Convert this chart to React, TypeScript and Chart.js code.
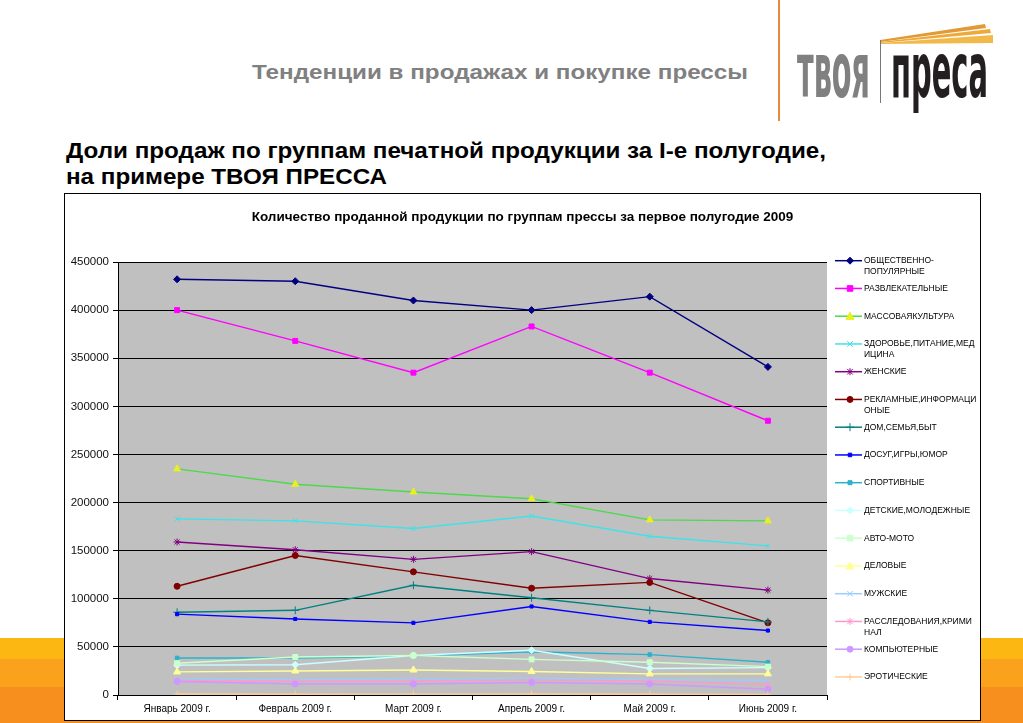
import React, { useEffect, useRef } from 'react';
import { Chart, registerables } from 'chart.js';

Chart.register(...registerables);

// ---------- DATA ----------
const months = ['Январь 2009 г.', 'Февраль 2009 г.', 'Март 2009 г.', 'Апрель 2009 г.', 'Май 2009 г.', 'Июнь 2009 г.'];

const seriesNames = [
  'ОБЩЕСТВЕННО-ПОПУЛЯРНЫЕ',
  'РАЗВЛЕКАТЕЛЬНЫЕ',
  'МАССОВАЯКУЛЬТУРА',
  'ЗДОРОВЬЕ,ПИТАНИЕ,МЕДИЦИНА',
  'ЖЕНСКИЕ',
  'РЕКЛАМНЫЕ,ИНФОРМАЦИОНЫЕ',
  'ДОМ,СЕМЬЯ,БЫТ',
  'ДОСУГ,ИГРЫ,ЮМОР',
  'СПОРТИВНЫЕ',
  'ДЕТСКИЕ,МОЛОДЕЖНЫЕ',
  'АВТО-МОТО',
  'ДЕЛОВЫЕ',
  'МУЖСКИЕ',
  'РАССЛЕДОВАНИЯ,КРИМИНАЛ',
  'КОМПЬЮТЕРНЫЕ',
  'ЭРОТИЧЕСКИЕ',
];

// legend text as it wraps in the reference
const legendLines = [
  ['ОБЩЕСТВЕННО-', 'ПОПУЛЯРНЫЕ'],
  ['РАЗВЛЕКАТЕЛЬНЫЕ'],
  ['МАССОВАЯКУЛЬТУРА'],
  ['ЗДОРОВЬЕ,ПИТАНИЕ,МЕД', 'ИЦИНА'],
  ['ЖЕНСКИЕ'],
  ['РЕКЛАМНЫЕ,ИНФОРМАЦИ', 'ОНЫЕ'],
  ['ДОМ,СЕМЬЯ,БЫТ'],
  ['ДОСУГ,ИГРЫ,ЮМОР'],
  ['СПОРТИВНЫЕ'],
  ['ДЕТСКИЕ,МОЛОДЕЖНЫЕ'],
  ['АВТО-МОТО'],
  ['ДЕЛОВЫЕ'],
  ['МУЖСКИЕ'],
  ['РАССЛЕДОВАНИЯ,КРИМИ', 'НАЛ'],
  ['КОМПЬЮТЕРНЫЕ'],
  ['ЭРОТИЧЕСКИЕ'],
];

const obshchestvennye = [432000, 430000, 410000, 400000, 414000, 341000];
const razvlekatelnye = [400000, 368000, 335000, 383000, 335000, 285000];
const massovayaKultura = [235000, 219000, 211000, 204000, 182000, 181000];
const zdorovie = [183000, 181000, 173000, 186000, 165000, 155000];
const zhenskie = [159000, 151000, 141000, 149000, 121000, 109000];
const reklamnye = [113000, 145000, 128000, 111000, 117000, 75000];
const domSemya = [86000, 88000, 114000, 101000, 88000, 76000];
const dosug = [84000, 79000, 75000, 92000, 76000, 67000];
const sportivnye = [38500, 38500, 40500, 45000, 42000, 34000];
const detskie = [31000, 31500, 41000, 46500, 27500, 28500];
const avtoMoto = [33000, 39500, 41000, 37000, 34000, 29500];
const delovye = [24000, 25000, 26000, 24500, 22000, 22000];
const muzhskie = [17000, 16000, 16500, 17500, 16000, 15000];
const rassledovaniya = [15000, 14000, 14500, 15500, 14500, 11000];
const kompyuternye = [14000, 11500, 11500, 13000, 11500, 6000];
const eroticheskie = [1000, 800, 900, 1000, 800, 700];

const seriesValues = [
  obshchestvennye, razvlekatelnye, massovayaKultura, zdorovie, zhenskie, reklamnye, domSemya, dosug,
  sportivnye, detskie, avtoMoto, delovye, muzhskie, rassledovaniya, kompyuternye, eroticheskie,
];

const yTicks = [0, 50000, 100000, 150000, 200000, 250000, 300000, 350000, 400000, 450000];

const chartTitle = 'Количество проданной продукции по группам прессы за первое полугодие 2009';

// ---------- STYLES ----------
const lineColors = [
  '#000080', '#FF00FF', '#4CD94C', '#3FE2E8', '#800080', '#800000', '#008080', '#0000FF',
  '#2AB2C9', '#CCFFFF', '#CCFFCC', '#FFFF99', '#99CCFF', '#FF99CC', '#CC99FF', '#FFCC99',
];
const markerColors = [
  '#000080', '#FF00FF', '#E8F020', '#3FE2E8', '#800080', '#800000', '#008080', '#0000FF',
  '#2AB2C9', '#CCFFFF', '#CCFFCC', '#FFFF99', '#99CCFF', '#FF99CC', '#CC99FF', '#FFCC99',
];
const markerStyles = [
  'rectRot', 'rect', 'triangle', 'crossRot', 'star', 'circle', 'cross', 'rect',
  'rect', 'rectRot', 'rect', 'triangle', 'crossRot', 'star', 'circle', 'cross',
];
const markerSizes = [3.5, 3.5, 4, 3.5, 3.5, 3, 4, 2.2, 2.5, 3.5, 3.5, 4, 3.5, 3.5, 3, 3.5];

const FONT = '"Liberation Sans", Arial, sans-serif';

function drawMarker(ctx: CanvasRenderingContext2D, style: string, x: number, y: number, r: number, color: string) {
  ctx.save();
  ctx.fillStyle = color;
  ctx.strokeStyle = color;
  ctx.lineWidth = 1;
  ctx.beginPath();
  switch (style) {
    case 'rectRot':
      ctx.moveTo(x, y - r); ctx.lineTo(x + r, y); ctx.lineTo(x, y + r); ctx.lineTo(x - r, y); ctx.closePath();
      ctx.fill(); ctx.stroke(); break;
    case 'rect':
      ctx.rect(x - r * 0.8, y - r * 0.8, r * 1.6, r * 1.6); ctx.fill(); ctx.stroke(); break;
    case 'triangle':
      ctx.moveTo(x, y - r); ctx.lineTo(x + r, y + r * 0.8); ctx.lineTo(x - r, y + r * 0.8); ctx.closePath();
      ctx.fill(); ctx.stroke(); break;
    case 'circle':
      ctx.arc(x, y, r, 0, Math.PI * 2); ctx.fill(); ctx.stroke(); break;
    case 'crossRot':
      ctx.moveTo(x - r * 0.8, y - r * 0.8); ctx.lineTo(x + r * 0.8, y + r * 0.8);
      ctx.moveTo(x + r * 0.8, y - r * 0.8); ctx.lineTo(x - r * 0.8, y + r * 0.8); ctx.stroke(); break;
    case 'star':
      ctx.moveTo(x - r * 0.8, y - r * 0.8); ctx.lineTo(x + r * 0.8, y + r * 0.8);
      ctx.moveTo(x + r * 0.8, y - r * 0.8); ctx.lineTo(x - r * 0.8, y + r * 0.8);
      ctx.moveTo(x, y - r); ctx.lineTo(x, y + r); ctx.stroke(); break;
    case 'cross':
      ctx.moveTo(x - r, y); ctx.lineTo(x + r, y); ctx.moveTo(x, y - r); ctx.lineTo(x, y + r); ctx.stroke(); break;
    default:
      ctx.moveTo(x - r, y); ctx.lineTo(x + r, y); ctx.stroke();
  }
  ctx.restore();
}

const plotBgPlugin = {
  id: 'plotBg',
  beforeDraw(chart: any) {
    const { ctx, chartArea } = chart;
    ctx.save();
    ctx.fillStyle = '#C0C0C0';
    ctx.fillRect(chartArea.left, chartArea.top, chartArea.right - chartArea.left, chartArea.bottom - chartArea.top);
    ctx.restore();
  },
};

const titleAndLegendPlugin = {
  id: 'titleLegend',
  afterDraw(chart: any) {
    const ctx: CanvasRenderingContext2D = chart.ctx;
    ctx.save();
    // title
    ctx.fillStyle = '#000';
    ctx.font = `bold 13.5px ${FONT}`;
    ctx.textAlign = 'center';
    ctx.textBaseline = 'middle';
    ctx.fillText(chartTitle, 457.5, 23);
    // legend
    ctx.font = `8.5px ${FONT}`;
    ctx.textAlign = 'left';
    for (let i = 0; i < legendLines.length; i++) {
      const y = 260.7 + i * 27.75 - 194;
      ctx.strokeStyle = lineColors[i];
      ctx.lineWidth = 1.5;
      ctx.beginPath();
      ctx.moveTo(770, y);
      ctx.lineTo(797, y);
      ctx.stroke();
      drawMarker(ctx, markerStyles[i], 785, y, markerSizes[i], markerColors[i]);
      ctx.fillStyle = '#000';
      legendLines[i].forEach((t, k) => ctx.fillText(t, 799, y + k * 11));
    }
    ctx.restore();
  },
};

function LineChart() {
  const ref = useRef<HTMLCanvasElement>(null);
  useEffect(() => {
    if (!ref.current) return;
    Chart.defaults.font.family = FONT;
    const chart = new Chart(ref.current, {
      type: 'line',
      data: {
        labels: months,
        datasets: seriesValues.map((vals, i) => ({
          label: seriesNames[i],
          data: vals,
          borderColor: lineColors[i],
          backgroundColor: markerColors[i],
          pointBackgroundColor: markerColors[i],
          pointBorderColor: markerColors[i],
          pointStyle: markerStyles[i] as any,
          pointRadius: markerSizes[i],
          pointBorderWidth: 1,
          borderWidth: 1.4,
          tension: 0,
          fill: false,
          order: -i,
        })),
      },
      options: {
        animation: false,
        responsive: false,
        maintainAspectRatio: false,
        layout: { padding: { top: 68, right: 153, bottom: 0, left: 0 } },
        plugins: { legend: { display: false }, title: { display: false }, tooltip: { enabled: false } },
        scales: {
          x: {
            offset: true,
            grid: { offset: true, drawOnChartArea: false, color: '#000', tickLength: 5 },
            border: { color: '#000' },
            ticks: { color: '#000', font: { size: 10, family: FONT }, padding: 3, maxRotation: 0, autoSkip: false },
            afterFit: (s: any) => { s.height = 25; },
          },
          y: {
            min: 0,
            max: 450000,
            afterBuildTicks: (s: any) => { s.ticks = yTicks.map((v) => ({ value: v })); },
            grid: { color: '#000', tickLength: 5 },
            border: { color: '#000' },
            ticks: { color: '#111', font: { size: 11.5, family: FONT }, padding: 4, callback: (v: any) => String(v) },
            afterFit: (s: any) => { s.width = 53; },
          },
        },
      },
      plugins: [plotBgPlugin, titleAndLegendPlugin],
    });
    return () => chart.destroy();
  }, []);
  return <canvas ref={ref} width={915} height={526} style={{ display: 'block', width: 915, height: 526 }} />;
}

export default function App() {
  return (
    <div style={{ position: 'absolute', left: 0, top: 0, width: 1023, height: 723, overflow: 'hidden', background: '#fff' }}>
      <svg width={1023} height={723} style={{ position: 'absolute', left: 0, top: 0 }}>
        <rect x={0} y={638} width={1023} height={21} fill="#FDB712" />
        <rect x={0} y={659} width={1023} height={28} fill="#FAA21B" />
        <rect x={0} y={687} width={1023} height={36} fill="#F78F1E" />
        <text x={252} y={79} fontFamily={FONT} fontWeight="bold" fontSize={21} fill="#808080" textLength={496} lengthAdjust="spacingAndGlyphs">
          Тенденции в продажах и покупке прессы
        </text>
        <text x={66} y={158} fontFamily={FONT} fontWeight="bold" fontSize={22.5} fill="#000" textLength={760} lengthAdjust="spacingAndGlyphs">
          Доли продаж по группам печатной продукции за I-е полугодие,
        </text>
        <text x={66} y={184} fontFamily={FONT} fontWeight="bold" fontSize={22.5} fill="#000" textLength={321} lengthAdjust="spacingAndGlyphs">
          на примере ТВОЯ ПРЕССА
        </text>
        {/* logo */}
        <line x1={779} y1={0} x2={779} y2={121} stroke="#E8883A" strokeWidth={2} />
        <polygon points="880,40 985,24 986,28 880,42" fill="#E39A36" />
        <polygon points="880,42 990,29 991,33 880,43" fill="#EDAA3A" />
        <polygon points="880,43 993,35 993,43 880,44" fill="#F2B94A" />
        <line x1={880.5} y1={40} x2={880.5} y2={103} stroke="#777" strokeWidth={1} />
        <text x={797} y={97} fontFamily='"Liberation Sans Narrow", "DejaVu Sans Condensed", sans-serif' fontWeight="bold" fontSize={76} fill="#808080" textLength={73} lengthAdjust="spacingAndGlyphs">
          твоя
        </text>
        <text x={891} y={97} fontFamily='"Liberation Sans Narrow", "DejaVu Sans Condensed", sans-serif' fontWeight="bold" fontSize={76} fill="#231F20" textLength={97} lengthAdjust="spacingAndGlyphs">
          преса
        </text>
      </svg>
      <div style={{ position: 'absolute', left: 64, top: 193, width: 917, height: 528, boxSizing: 'border-box', border: '1px solid #000', background: '#fff' }}>
        <LineChart />
      </div>
    </div>
  );
}
